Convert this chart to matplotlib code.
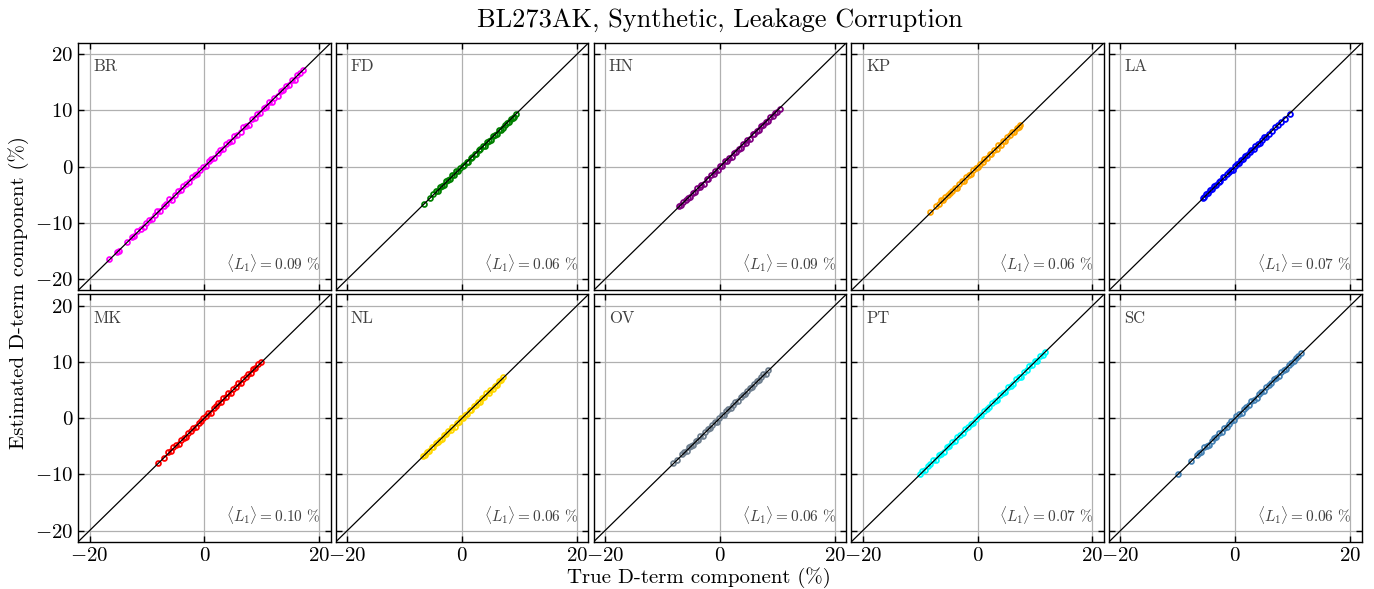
import matplotlib
matplotlib.use('Agg')
import matplotlib.pyplot as plt
from matplotlib import rcParams

rcParams['font.family'] = 'serif'
rcParams['font.serif'] = ['cmr10']
rcParams['mathtext.fontset'] = 'cm'
rcParams['axes.formatter.use_mathtext'] = True
rcParams['axes.unicode_minus'] = True

stations = ['BR', 'FD', 'HN', 'KP', 'LA', 'MK', 'NL', 'OV', 'PT', 'SC']
colors = ['magenta', 'green', 'purple', 'orange', 'blue',
          'red', 'gold', 'slategray', 'cyan', 'steelblue']
mean_l1 = [0.09, 0.06, 0.09, 0.06, 0.07, 0.10, 0.06, 0.06, 0.07, 0.06]

# true vs estimated D-term components (%), per station
br_true = [-16.6, -15.3, -14.9, -13.5, -12.6, -12.2, -11.7, -11.1, -10.6, -10.2, -9.7, -9.1, -8.6,
           -8.2, -7.7, -7.1, -6.6, -6.1, -5.7, -5.2, -4.6, -4.1, -3.7, -3.2, -2.6, -2.1, -1.6,
           -1.2, -0.7, -0.2, 0.3, 0.8, 1.2, 1.7, 2.3, 2.8, 3.2, 3.7, 4.3, 4.8, 5.2, 5.7, 6.3,
           6.8, 7.2, 7.7, 8.3, 8.8, 9.2, 9.7, 10.3, 10.8, 11.3, 11.7, 12.2, 12.8, 13.3, 13.7,
           14.2, 14.8, 15.3, 15.7, 16.2, 16.7, 17.2]
br_est = [-16.4, -15.2, -15.0, -13.3, -12.5, -12.4, -11.4, -11.0, -10.7, -10.0, -9.4, -9.3, -8.5,
          -7.9, -7.8, -6.9, -6.6, -5.8, -5.9, -5.1, -4.4, -4.2, -3.4, -3.1, -2.8, -1.9, -1.5,
          -1.3, -0.5, -0.1, 0.2, 1.0, 1.3, 1.5, 2.5, 2.9, 3.1, 4.0, 4.4, 4.6, 5.4, 5.7, 6.1,
          7.0, 7.3, 7.5, 8.4, 8.7, 9.4, 9.5, 10.4, 10.7, 11.5, 11.5, 12.3, 12.6, 13.4, 13.6,
          14.4, 14.6, 15.4, 15.5, 16.3, 16.6, 17.2]

fd_true = [-6.7, -5.6, -5.0, -4.5, -4.2, -3.8, -3.5, -3.1, -2.8, -2.4, -2.1, -1.7, -1.4, -1.0,
           -0.7, -0.3, 0.1, 0.4, 0.8, 1.1, 1.5, 1.8, 2.2, 2.5, 2.9, 3.2, 3.6, 3.9, 4.3, 4.6,
           5.0, 5.3, 5.7, 6.0, 6.4, 6.7, 7.1, 7.4, 7.8, 8.1, 8.5, 8.8, 9.1, 9.4]
fd_est = [-6.6, -5.6, -4.9, -4.3, -4.3, -3.6, -3.4, -3.2, -2.6, -2.3, -2.2, -1.5, -1.4, -0.8,
          -0.8, -0.2, 0.2, 0.3, 0.9, 0.9, 1.6, 1.7, 2.3, 2.3, 2.9, 3.1, 3.7, 3.7, 4.4, 4.5,
          4.8, 5.4, 5.6, 5.8, 6.5, 6.6, 6.9, 7.5, 7.7, 7.9, 8.5, 8.7, 8.9, 9.3]

hn_true = [-7.1, -6.7, -6.4, -5.9, -5.6, -5.2, -4.7, -4.4, -4.0, -3.5, -3.2, -2.8, -2.3, -2.0,
           -1.6, -1.1, -0.8, -0.4, 0.1, 0.4, 0.9, 1.2, 1.6, 2.1, 2.4, 2.8, 3.3, 3.6, 4.0, 4.5,
           4.8, 5.2, 5.7, 6.0, 6.4, 6.9, 7.2, 7.6, 8.1, 8.4, 8.8, 9.3, 9.6, 10.0, 10.4]
hn_est = [-7.0, -6.8, -6.2, -6.0, -5.5, -5.4, -4.6, -4.5, -3.8, -3.6, -3.2, -3.0, -2.2, -2.1,
          -1.5, -1.3, -0.7, -0.5, 0.1, 0.2, 1.0, 1.0, 1.5, 1.8, 2.5, 2.6, 3.2, 3.3, 4.1, 4.3,
          4.7, 4.9, 5.8, 5.8, 6.3, 6.6, 7.3, 7.4, 8.0, 8.1, 8.9, 9.1, 9.5, 9.8, 10.3]

kp_true = [-8.3, -7.2, -6.8, -6.3, -6.0, -5.6, -5.1, -4.8, -4.4, -3.9, -3.6, -3.2, -2.7, -2.4,
           -2.0, -1.5, -1.2, -0.8, -0.3, 0.0, 0.4, 0.9, 1.2, 1.6, 2.1, 2.4, 2.8, 3.3, 3.6, 4.0,
           4.5, 4.8, 5.2, 5.7, 6.0, 6.4, 6.9, 7.2, 7.4]
kp_est = [-8.1, -7.0, -6.7, -6.0, -5.9, -5.4, -5.1, -4.6, -4.3, -3.7, -3.7, -3.0, -2.6, -2.5,
          -1.8, -1.4, -1.3, -0.6, -0.2, -0.1, 0.5, 0.8, 1.4, 1.5, 2.2, 2.2, 2.9, 3.2, 3.8, 3.9,
          4.6, 4.6, 5.3, 5.6, 6.1, 6.2, 6.9, 7.1, 7.5]

la_true = [-5.7, -5.4, -5.1, -4.7, -4.4, -4.0, -3.7, -3.3, -2.9, -2.6, -2.2, -1.9, -1.5, -1.1,
           -0.8, -0.4, -0.1, 0.3, 0.7, 1.0, 1.4, 1.7, 2.1, 2.5, 2.8, 3.2, 3.5, 3.9, 4.3, 4.6,
           5.0, 5.3, 5.8, 6.4, 7.0, 7.5, 8.0, 8.6, 9.5]
la_est = [-5.5, -5.4, -4.9, -4.6, -4.1, -3.9, -3.5, -3.3, -2.7, -2.5, -1.9, -1.9, -1.3, -1.0,
          -0.6, -0.5, 0.1, 0.4, 0.6, 1.2, 1.4, 1.9, 2.0, 2.6, 3.0, 3.1, 3.6, 4.1, 4.2, 4.7,
          5.2, 5.2, 5.9, 6.3, 7.1, 7.4, 8.0, 8.5, 9.4]

mk_true = [-8.0, -7.0, -6.3, -5.8, -5.4, -4.9, -4.5, -4.1, -3.6, -3.2, -2.8, -2.3, -1.9, -1.5,
           -1.0, -0.6, -0.2, 0.3, 0.7, 1.1, 1.6, 2.0, 2.4, 2.9, 3.3, 3.7, 4.2, 4.6, 5.0, 5.5,
           5.9, 6.3, 6.8, 7.2, 7.6, 8.1, 8.5, 8.9, 9.4, 9.9]
mk_est = [-7.9, -7.0, -6.1, -5.9, -5.2, -4.8, -4.6, -3.9, -3.5, -3.4, -2.6, -2.3, -1.7, -1.6,
          -0.8, -0.5, 0.1, 0.4, 0.9, 1.0, 1.8, 2.1, 2.7, 2.9, 3.5, 3.8, 4.4, 4.5, 5.2, 5.6,
          6.2, 6.3, 7.0, 7.3, 7.8, 8.0, 8.7, 9.0, 9.6, 10.0]

nl_true = [-6.8, -6.4, -6.1, -5.7, -5.3, -5.0, -4.6, -4.2, -3.9, -3.5, -3.1, -2.8, -2.4, -2.0,
           -1.7, -1.3, -0.9, -0.6, -0.2, 0.2, 0.5, 0.9, 1.3, 1.6, 2.0, 2.4, 2.7, 3.1, 3.5, 3.8,
           4.2, 4.6, 4.9, 5.3, 5.7, 6.0, 6.4, 6.8, 7.2]
nl_est = [-6.7, -6.5, -6.0, -5.9, -5.2, -5.1, -4.4, -4.3, -3.8, -3.7, -3.0, -2.9, -2.2, -2.1,
          -1.6, -1.5, -0.8, -0.7, 0.0, 0.1, 0.6, 0.7, 1.4, 1.5, 2.2, 2.3, 2.8, 2.9, 3.6, 3.7,
          4.4, 4.5, 5.0, 5.1, 5.8, 5.9, 6.6, 6.7, 7.3]

ov_true = [-8.1, -7.4, -6.6, -6.2, -5.8, -5.4, -5.0, -4.6, -4.2, -3.8, -3.4, -3.0, -2.6, -2.1,
           -1.7, -1.3, -0.9, -0.5, -0.1, 0.3, 0.7, 1.1, 1.5, 1.9, 2.3, 2.7, 3.1, 3.6, 4.0, 4.4,
           4.8, 5.2, 5.6, 6.0, 6.4, 6.8, 7.2, 7.6, 8.0, 8.4]
ov_est = [-8.0, -7.4, -6.4, -6.1, -5.9, -5.2, -4.9, -4.7, -4.0, -3.8, -3.2, -3.1, -2.5, -1.9,
          -1.8, -1.2, -0.7, -0.6, 0.0, 0.5, 0.6, 1.2, 1.7, 1.8, 2.4, 2.9, 3.0, 3.7, 4.2, 4.3,
          4.9, 5.4, 5.5, 6.1, 6.6, 6.7, 7.3, 7.8, 7.9, 8.5]

pt_true = [-10.1, -9.6, -9.2, -8.7, -8.2, -7.8, -7.3, -6.8, -6.4, -5.9, -5.4, -5.0, -4.5, -4.0,
           -3.6, -3.1, -2.6, -2.2, -1.7, -1.2, -0.8, -0.3, 0.2, 0.6, 1.1, 1.6, 2.0, 2.5, 3.0,
           3.4, 3.9, 4.4, 4.8, 5.3, 5.8, 6.2, 6.7, 7.2, 7.6, 8.1, 8.6, 9.0, 9.5, 10.0, 10.4,
           10.9, 11.4, 11.8]
pt_est = [-10.0, -9.4, -9.3, -8.5, -8.1, -7.5, -7.4, -6.6, -6.3, -6.0, -5.2, -4.9, -4.2, -4.1,
          -3.4, -3.0, -2.7, -2.0, -1.6, -1.0, -0.9, -0.1, 0.3, 0.5, 1.3, 1.7, 1.9, 2.7, 3.1,
          3.3, 4.1, 4.5, 4.7, 5.5, 5.8, 6.1, 6.9, 7.3, 7.4, 8.2, 8.5, 9.2, 9.4, 10.1, 10.2,
          11.0, 11.3, 11.8]

sc_true = [-10.0, -7.8, -6.7, -6.3, -5.9, -5.4, -5.0, -4.6, -4.1, -3.7, -3.3, -2.8, -2.4, -2.0,
           -1.5, -1.1, -0.7, -0.2, 0.2, 0.6, 1.1, 1.5, 1.9, 2.4, 2.8, 3.2, 3.7, 4.1, 4.5, 5.0,
           5.4, 5.8, 6.3, 6.7, 7.1, 7.6, 8.0, 8.4, 8.9, 9.3, 9.7, 10.2, 10.6, 11.0, 11.4]
sc_est = [-10.0, -7.7, -6.5, -6.2, -6.0, -5.2, -4.9, -4.7, -4.0, -3.5, -3.4, -2.7, -2.4, -1.8,
          -1.6, -1.0, -0.5, -0.3, 0.3, 0.8, 1.0, 1.7, 2.0, 2.3, 3.0, 3.3, 3.6, 4.3, 4.6, 4.9,
          5.6, 5.9, 6.2, 6.9, 7.2, 7.5, 8.2, 8.5, 8.8, 9.5, 9.8, 10.1, 10.7, 11.0, 11.5]

true_vals = [br_true, fd_true, hn_true, kp_true, la_true, mk_true, nl_true, ov_true, pt_true, sc_true]
est_vals = [br_est, fd_est, hn_est, kp_est, la_est, mk_est, nl_est, ov_est, pt_est, sc_est]

lim = [-22, 22]

fig, axes = plt.subplots(2, 5, sharex=True, sharey=True, figsize=(13.74, 5.89), dpi=100)
fig.subplots_adjust(left=0.0568, right=0.991, top=0.927, bottom=0.080,
                    wspace=0.02, hspace=0.016)

for i, ax in enumerate(axes.flat):
    ax.plot(true_vals[i], est_vals[i], 'o', mfc='none', mec=colors[i],
            ms=3.5, mew=1.3, zorder=2)
    # one-to-one line on top of the points
    ax.plot(lim, lim, color='k', lw=0.9, zorder=3)
    ax.set_xlim(lim)
    ax.set_ylim(lim)
    ax.set_xticks([-20, 0, 20])
    ax.set_yticks([-20, -10, 0, 10, 20])
    ax.grid(True, color='#b0b0b0', lw=0.9)
    ax.set_axisbelow(True)
    ax.tick_params(direction='in', top=True, right=True, length=4, width=1,
                   labelsize=15)
    for sp in ax.spines.values():
        sp.set_linewidth(1.0)
    ax.text(0.06, 0.935, stations[i], transform=ax.transAxes, ha='left', va='top',
            fontsize=12, color='0.25')
    ax.text(0.96, 0.065, r'$\langle L_1\rangle = %.2f$ %%' % mean_l1[i],
            transform=ax.transAxes, ha='right', va='bottom', fontsize=11, color='0.25')

fig.text(0.524, 0.966, 'BL273AK, Synthetic, Leakage Corruption', ha='center', va='center',
         fontsize=19)
fig.text(0.509, 0.02, 'True D-term component (%)', ha='center', va='center', fontsize=15)
fig.text(0.0138, 0.503, 'Estimated D-term component (%)', ha='center', va='center',
         rotation=90, fontsize=15)

plt.savefig('out.png', dpi=100)
